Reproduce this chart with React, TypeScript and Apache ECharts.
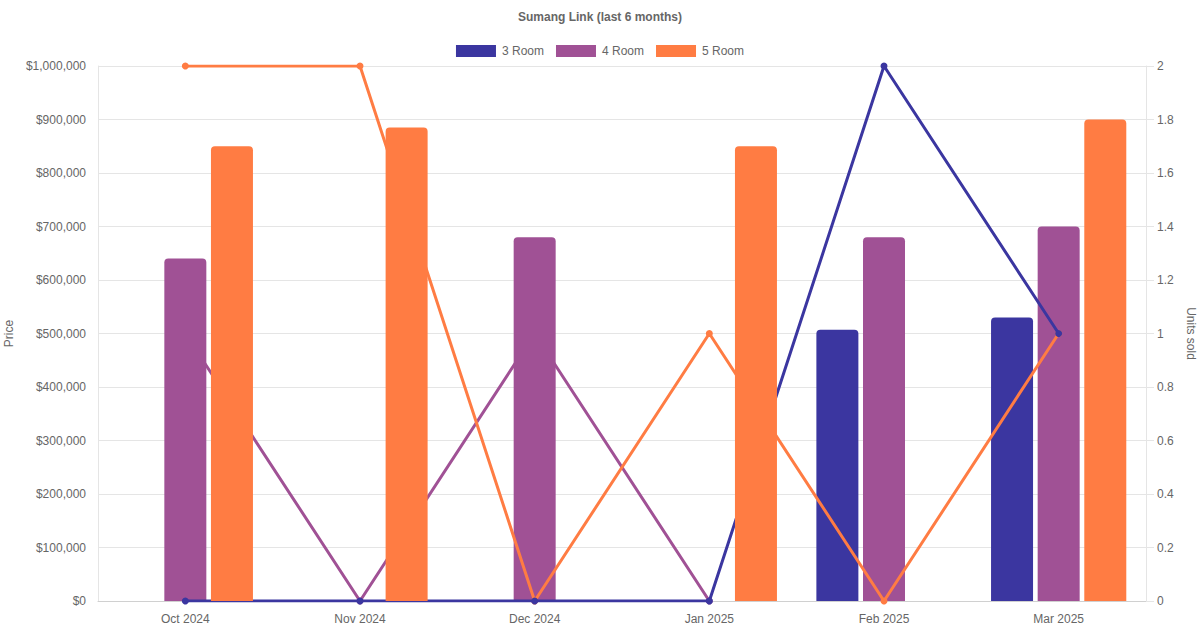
import React, { useEffect, useRef } from 'react';
import * as echarts from 'echarts';

const months = ['Oct 2024', 'Nov 2024', 'Dec 2024', 'Jan 2025', 'Feb 2025', 'Mar 2025'];

// median price per flat type (null = no sale that month)
const price3Room = [null, null, null, null, 507000, 530000];
const price4Room = [640000, null, 680000, null, 680000, 700000];
const price5Room = [850000, 885000, null, 850000, null, 900000];

// units sold per flat type
const units3Room = [0, 0, 0, 0, 2, 1];
const units4Room = [1, 0, 1, 0, null, null];
const units5Room = [2, 2, 0, 1, 0, 1];

const COLOR_3 = '#3b36a0';
const COLOR_4 = '#a05195';
const COLOR_5 = '#ff7c43';
const FONT = '"Liberation Sans", Arial, Helvetica, sans-serif';

const App: React.FC = () => {
  const chartRef = useRef<HTMLDivElement>(null);

  useEffect(() => {
    const chart = echarts.init(chartRef.current!, undefined, { renderer: 'svg' });

    const bar = (name: string, data: (number | null)[], color: string, z: number) => ({
      name,
      type: 'bar',
      data,
      z,
      barWidth: 42,
      barGap: '11%',
      itemStyle: { color, borderRadius: [4, 4, 0, 0] },
    });

    const line = (name: string, data: (number | null)[], color: string, z: number) => ({
      name,
      type: 'line',
      yAxisIndex: 1,
      data,
      z,
      symbol: 'circle',
      symbolSize: 7,
      connectNulls: false,
      lineStyle: { color, width: 3 },
      itemStyle: { color },
    });

    const option = {
      animation: false,
      textStyle: { fontFamily: FONT },
      title: {
        text: 'Sumang Link (last 6 months)',
        left: 'center',
        top: 6,
        textStyle: { fontSize: 12, fontWeight: 'bold', color: '#666', fontFamily: FONT },
      },
      legend: {
        top: 40,
        left: 'center',
        itemWidth: 40,
        itemHeight: 12,
        itemGap: 12,
        textStyle: { fontSize: 12, color: '#666', fontFamily: FONT, padding: [0, 0, 0, 1] },
        data: [
          { name: '3 Room', icon: 'rect' },
          { name: '4 Room', icon: 'rect' },
          { name: '5 Room', icon: 'rect' },
        ],
      },
      grid: { left: 98, right: 54, top: 66, bottom: 29, outerBoundsMode: 'none', containLabel: false },
      xAxis: {
        type: 'category',
        data: months,
        axisTick: { show: false },
        axisLine: { lineStyle: { color: '#d0d0d0' } },
        axisLabel: { color: '#666', fontSize: 12, margin: 12, fontFamily: FONT },
      },
      yAxis: [
        {
          type: 'value',
          name: 'Price',
          nameLocation: 'middle',
          nameGap: 81,
          nameTextStyle: { color: '#666', fontSize: 12, fontFamily: FONT },
          min: 0,
          max: 1000000,
          interval: 100000,
          axisLine: { show: true, lineStyle: { color: '#e5e5e5' } },
          axisTick: { show: false },
          splitLine: { lineStyle: { color: '#e5e5e5' } },
          axisLabel: {
            color: '#666',
            fontSize: 12,
            margin: 12,
            fontFamily: FONT,
            formatter: (v: number) => '$' + v.toLocaleString('en-US'),
          },
        },
        {
          type: 'value',
          name: 'Units sold',
          nameLocation: 'middle',
          nameGap: 36,
          nameRotate: -90,
          nameTextStyle: { color: '#666', fontSize: 12, fontFamily: FONT },
          min: 0,
          max: 2,
          interval: 0.2,
          axisLine: { show: true, lineStyle: { color: '#e5e5e5' } },
          axisTick: { show: true, length: 8, lineStyle: { color: '#e5e5e5' } },
          splitLine: { show: false },
          axisLabel: { color: '#666', fontSize: 12, margin: 11, fontFamily: FONT },
        },
      ],
      series: [
        bar('3 Room', price3Room, COLOR_3, 2),
        bar('4 Room', price4Room, COLOR_4, 2),
        bar('5 Room', price5Room, COLOR_5, 5),
        line('3 Room', units3Room, COLOR_3, 4),
        line('4 Room', units4Room, COLOR_4, 1),
        line('5 Room', units5Room, COLOR_5, 3),
      ],
    };

    chart.setOption(option);

    return () => {
      chart.dispose();
    };
  }, []);

  return (
    <div
      ref={chartRef}
      style={{ position: 'absolute', left: 0, top: 0, width: 1200, height: 630, background: '#fff' }}
    />
  );
};

export default App;
